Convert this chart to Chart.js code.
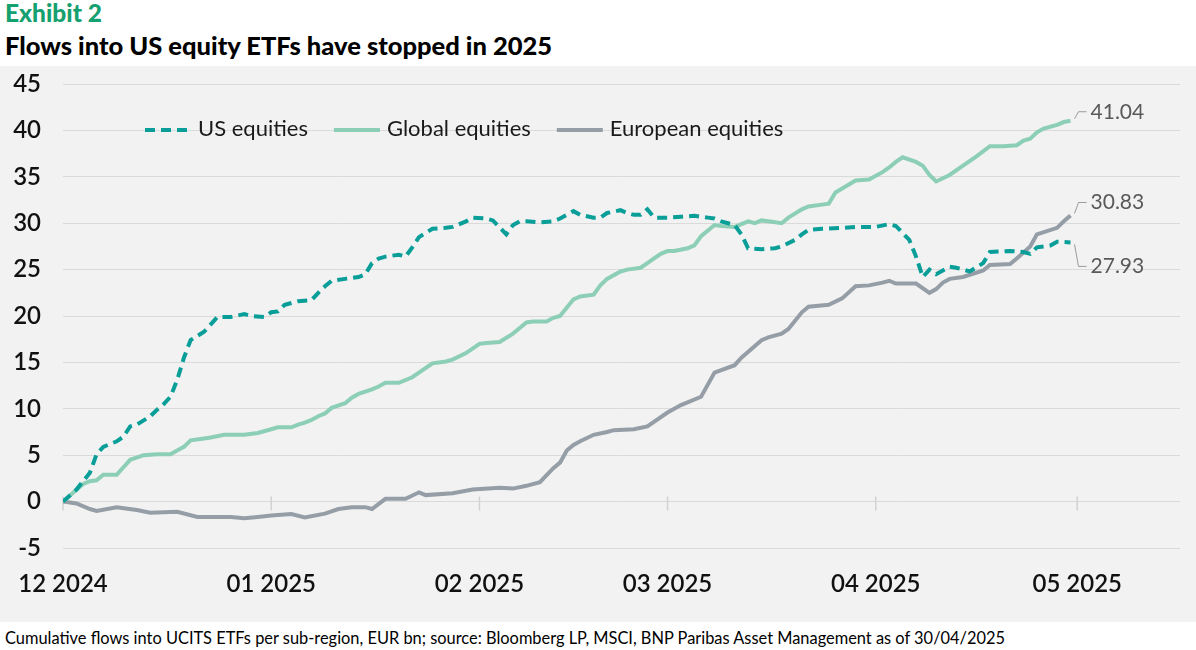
<!DOCTYPE html>
<html>
<head>
<meta charset="utf-8">
<script src="https://cdn.jsdelivr.net/npm/chart.js@4.4.1/dist/chart.umd.min.js"></script>
<style>
  body { margin: 0; width: 1196px; height: 650px; background: #fff; font-family: Lato, sans-serif; position: relative; overflow: hidden; }
  #kicker { position: absolute; left: 5px; top: -2px; font-size: 24.5px; font-weight: 900; color: #14a06f; }
  #title { position: absolute; left: 5px; top: 30px; font-size: 25.5px; font-weight: 900; color: #000; }
  #panel { position: absolute; left: 0; top: 66px; width: 1196px; height: 556px; background: #f2f2f2; }
  #note { position: absolute; left: 5px; top: 628px; font-size: 16.4px; color: #000; }
</style>
</head>
<body>
<div id="kicker">Exhibit 2</div>
<div id="title">Flows into US equity ETFs have stopped in 2025</div>
<div id="panel"><canvas id="flowChart"></canvas></div>
<div id="note">Cumulative flows into UCITS ETFs per sub-region, EUR bn; source: Bloomberg LP, MSCI, BNP Paribas Asset Management as of 30/04/2025</div>
<script>
// x = days since 1 Dec 2024
const monthTicks = [0, 31, 62, 90, 121, 151];
const monthLabels = ['12 2024', '01 2025', '02 2025', '03 2025', '04 2025', '05 2025'];
const seriesNames = ['US equities', 'Global equities', 'European equities'];

// [day, EUR bn]
const usFlows = [
    [0, 0], [2, 1.3], [4, 3.1], [5, 5.1], [6, 5.9], [8, 6.5], [9, 7.0], [10, 8.1], [11, 8.3], [13, 9.2],
    [14, 9.9], [15, 10.5], [16, 11.3], [17, 13.1], [18, 15.5], [19, 17.4], [21, 18.3], [22, 19.1], [23, 19.9], [25, 19.9],
    [27, 20.2], [28, 20.0], [30, 19.9], [31, 20.4], [32, 20.5], [33, 21.2], [35, 21.6], [37, 21.7], [38, 22.5], [39, 23.2],
    [40, 23.8], [42, 24.0], [44, 24.2], [45, 24.5], [46, 25.7], [47, 26.2], [48, 26.4], [49, 26.5], [50, 26.6], [51, 26.4],
    [52, 27.4], [53, 28.5], [55, 29.4], [57, 29.5], [58, 29.6], [60, 30.2], [61, 30.6], [63, 30.5], [64, 30.3], [66, 28.8],
    [67, 29.8], [68, 30.2], [69, 30.2], [71, 30.1], [73, 30.2], [74, 30.5], [76, 31.3], [77, 30.9], [79, 30.6], [80, 30.6],
    [81, 31.1], [83, 31.4], [84, 31.1], [85, 30.9], [86, 30.9], [87, 31.5], [88, 30.6], [90, 30.6], [92, 30.7], [94, 30.8],
    [96, 30.6], [97, 30.5], [98, 30.2], [100, 29.8], [101, 28.8], [102, 27.3], [104, 27.2], [106, 27.3], [107, 27.5], [109, 28.2],
    [110, 28.8], [111, 29.3], [113, 29.4], [116, 29.5], [118, 29.6], [121, 29.6], [123, 29.9], [124, 29.7], [126, 28.2], [127, 26.4],
    [128, 24.2], [129, 25.0], [130, 24.5], [132, 25.3], [133, 25.2], [135, 24.8], [137, 25.7], [138, 26.9], [141, 27.0], [143, 26.9],
    [144, 26.7], [145, 27.4], [147, 27.6], [148, 28.0], [150, 27.93]
];

const globalFlows = [
    [0, 0], [3, 1.9], [4, 2.2], [5, 2.3], [6, 2.9], [7, 2.9], [8, 2.9], [9, 3.7], [10, 4.5], [12, 5.0],
    [14, 5.1], [16, 5.1], [17, 5.5], [18, 5.9], [19, 6.6], [21, 6.8], [22, 6.9], [24, 7.2], [25, 7.2], [27, 7.2],
    [29, 7.4], [31, 7.8], [32, 8.0], [34, 8.0], [35, 8.3], [36, 8.5], [37, 8.8], [38, 9.2], [39, 9.5], [40, 10.1],
    [42, 10.6], [43, 11.2], [44, 11.6], [46, 12.1], [47, 12.4], [48, 12.8], [50, 12.8], [52, 13.4], [55, 14.9], [57, 15.1],
    [58, 15.3], [60, 16.0], [62, 17.0], [63, 17.1], [65, 17.2], [67, 18.1], [68, 18.7], [69, 19.3], [70, 19.4], [72, 19.4],
    [73, 19.8], [74, 20.0], [76, 21.8], [77, 22.1], [79, 22.3], [80, 23.3], [81, 24.0], [83, 24.8], [84, 25.0], [86, 25.2],
    [87, 25.7], [88, 26.2], [89, 26.7], [90, 27.0], [91, 27.0], [93, 27.3], [94, 27.6], [95, 28.6], [97, 29.8], [98, 29.7],
    [100, 29.6], [102, 30.2], [103, 30.0], [104, 30.3], [105, 30.2], [107, 30.0], [108, 30.6], [110, 31.5], [111, 31.8], [113, 32.0],
    [114, 32.1], [115, 33.3], [118, 34.6], [120, 34.7], [122, 35.5], [123, 36.0], [124, 36.6], [125, 37.1], [127, 36.6], [128, 36.2],
    [129, 35.2], [130, 34.5], [132, 35.2], [134, 36.2], [136, 37.2], [138, 38.3], [140, 38.3], [142, 38.4], [143, 38.9], [144, 39.1],
    [145, 39.8], [146, 40.2], [148, 40.6], [149, 40.9], [150, 41.04]
];

const europeFlows = [
    [0, 0], [2, -0.2], [4, -0.8], [5, -1.0], [8, -0.6], [11, -0.9], [13, -1.2], [17, -1.1], [20, -1.65], [25, -1.65],
    [27, -1.8], [29, -1.65], [31, -1.5], [34, -1.35], [36, -1.7], [39, -1.3], [41, -0.8], [43, -0.6], [45, -0.6], [46, -0.8],
    [48, 0.3], [51, 0.3], [53, 1.0], [54, 0.7], [58, 0.9], [61, 1.3], [65, 1.5], [67, 1.4], [69, 1.7], [71, 2.1],
    [73, 3.6], [74, 4.2], [75, 5.5], [76, 6.1], [77, 6.5], [79, 7.2], [81, 7.5], [82, 7.7], [85, 7.8], [87, 8.1],
    [90, 9.6], [92, 10.4], [95, 11.3], [97, 13.9], [100, 14.7], [101, 15.5], [104, 17.4], [105, 17.7], [107, 18.1], [108, 18.6],
    [110, 20.4], [111, 21.0], [114, 21.2], [116, 21.9], [118, 23.2], [120, 23.3], [122, 23.6], [123, 23.8], [124, 23.5], [127, 23.5],
    [129, 22.5], [130, 22.9], [131, 23.6], [132, 24.0], [134, 24.2], [137, 24.9], [138, 25.5], [141, 25.6], [142, 26.2], [144, 27.5],
    [145, 28.8], [148, 29.5], [149, 30.2], [150, 30.83]
];

const colors = ['#0a9e99', '#8ccfb6', '#959ea6'];
const endShift = [24, -9, -13];   // vertical offset of the end value labels

const toPoints = (arr) => arr.map(p => ({ x: p[0], y: p[1] }));

// legend drawn inside the plot
const inlineLegend = {
    id: 'inlineLegend',
    afterDraw(chart) {
        const ctx = chart.ctx;
        const y = chart.chartArea.top + 45;
        let x = 145;
        ctx.save();
        ctx.font = '22px Lato';
        ctx.textBaseline = 'middle';
        chart.data.datasets.forEach((ds) => {
            ctx.strokeStyle = ds.borderColor;
            ctx.lineWidth = 4;
            ctx.setLineDash(ds.borderDash || []);
            ctx.beginPath();
            ctx.moveTo(x, y + 1);
            ctx.lineTo(x + 46, y + 1);
            ctx.stroke();
            ctx.setLineDash([]);
            ctx.fillStyle = '#1a1a1a';
            ctx.fillText(ds.label, x + 53, y);
            x += 53 + ctx.measureText(ds.label).width + 26;
        });
        ctx.restore();
    }
};

const endLabels = {
    id: 'endLabels',
    afterDatasetsDraw(chart) {
        const ctx = chart.ctx;
        ctx.save();
        chart.data.datasets.forEach((ds, i) => {
            const meta = chart.getDatasetMeta(i);
            const pt = meta.data[meta.data.length - 1];
            const dy = endShift[i];
            const s = dy < 0 ? -1 : 1;
            ctx.strokeStyle = '#9a9a9a';
            ctx.lineWidth = 1;
            ctx.beginPath();
            ctx.moveTo(pt.x + 4, pt.y + s * 2);
            ctx.lineTo(pt.x + 8, pt.y + dy);
            ctx.lineTo(pt.x + 16, pt.y + dy);
            ctx.stroke();
            ctx.fillStyle = '#595959';
            ctx.font = '21px Lato';
            ctx.textBaseline = 'middle';
            ctx.fillText(ds.data[ds.data.length - 1].y.toFixed(2), pt.x + 20, pt.y + dy);
        });
        ctx.restore();
    }
};

// small month ticks across the zero line
const zeroTicks = {
    id: 'zeroTicks',
    beforeDatasetsDraw(chart) {
        const ctx = chart.ctx;
        const y0 = chart.scales.y.getPixelForValue(0);
        ctx.save();
        ctx.strokeStyle = '#d2d2d2';
        ctx.lineWidth = 1.5;
        monthTicks.forEach(v => {
            const px = chart.scales.x.getPixelForValue(v);
            ctx.beginPath();
            ctx.moveTo(px, y0 - 5);
            ctx.lineTo(px, y0 + 9);
            ctx.stroke();
        });
        ctx.restore();
    }
};

const ctx = document.getElementById('flowChart').getContext('2d');
const flowChart = new Chart(ctx, {
    type: 'line',
    data: {
        datasets: [{
            label: seriesNames[0],
            data: toPoints(usFlows),
            borderColor: colors[0],
            borderWidth: 4,
            borderDash: [10, 6],
            pointRadius: 0,
            fill: false
        }, {
            label: seriesNames[1],
            data: toPoints(globalFlows),
            borderColor: colors[1],
            borderWidth: 4,
            pointRadius: 0,
            fill: false
        }, {
            label: seriesNames[2],
            data: toPoints(europeFlows),
            borderColor: colors[2],
            borderWidth: 4,
            pointRadius: 0,
            fill: false
        }]
    },
    options: {
        responsive: true,
        maintainAspectRatio: false,
        animation: false,
        layout: { padding: { top: 18, right: 16, bottom: 0, left: 0 } },
        plugins: {
            legend: { display: false },
            tooltip: { enabled: false }
        },
        scales: {
            x: {
                type: 'linear',
                min: 0,
                max: 166.3,
                grid: { display: false },
                border: { display: false },
                afterBuildTicks: (axis) => { axis.ticks = monthTicks.map(v => ({ value: v })); },
                afterFit: (axis) => { axis.height = 74; },
                ticks: {
                    autoSkip: false,
                    maxRotation: 0,
                    padding: 14,
                    color: '#111',
                    font: { family: 'Lato', size: 24, weight: '600' },
                    callback: (v) => monthLabels[monthTicks.indexOf(v)]
                }
            },
            y: {
                min: -5,
                max: 45,
                grid: { color: '#dadada', lineWidth: 1, drawTicks: true, tickLength: 22, tickColor: 'rgba(0,0,0,0)' },
                border: { display: false },
                afterFit: (axis) => { axis.width = 63; },
                ticks: {
                    stepSize: 5,
                    padding: 0,
                    color: '#111',
                    font: { family: 'Lato', size: 24, weight: '600' }
                }
            }
        }
    },
    plugins: [zeroTicks, endLabels, inlineLegend]
});
</script>
</body>
</html>
